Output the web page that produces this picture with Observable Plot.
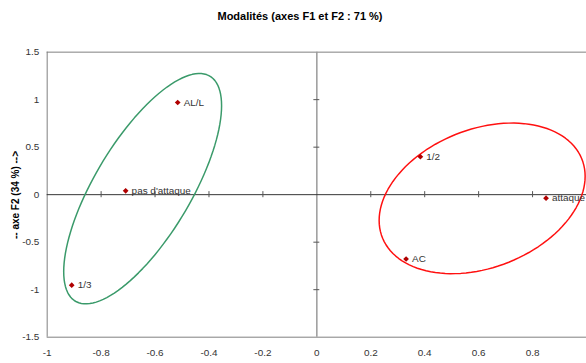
<!DOCTYPE html>
<html>
<head>
<meta charset="utf-8">
<script src="https://cdn.jsdelivr.net/npm/d3@7"></script>
<script src="https://cdn.jsdelivr.net/npm/@observablehq/plot@0.6"></script>
<style>
  html, body { margin: 0; padding: 0; background: #fff; overflow: hidden; width: 586px; height: 363px; }
  #wrap { position: relative; width: 586px; height: 363px; }
  #title { position: absolute; left: 0; width: 600px; top: 10px; text-align: center; font: bold 11px "Liberation Sans", Arial, sans-serif; color: #000; }
  #ylab { position: absolute; left: 15px; top: 195px; transform: translate(-50%, -50%) rotate(-90deg); white-space: nowrap; font: bold 10px "Liberation Sans", Arial, sans-serif; color: #000; }
  svg { position: absolute; left: 0; top: 0; }
</style>
</head>
<body>
<div id="wrap">
  <div id="chart"></div>
  <div id="title">Modalités (axes F1 et F2 : 71 %)</div>
  <div id="ylab">-- axe F2 (34 %) --&gt;</div>
</div>
<script>
// Modalities (points)
const labels = ["AL/L", "pas d'attaque", "1/3", "1/2", "attaque", "AC"];
const f1 = [-0.516, -0.709, -0.909, 0.384, 0.850, 0.331];
const f2 = [0.970, 0.040, -0.953, 0.399, -0.037, -0.677];

// Ellipses (center and covariance-like shape parameters, data units)
const ellipseNames = ["green", "red"];
const ellipseColors = ["#3a9a6a", "#ff1010"];
const ellipseCx = [-0.646, 0.613];
const ellipseCy = [0.063, -0.039];
const ellipseSxx = [0.0857, 0.1459];
const ellipseSyy = [1.470, 0.628];
const ellipseSxy = [0.2556, 0.0886];

// Tick values
const xTicks = [-1, -0.8, -0.6, -0.4, -0.2, 0, 0.2, 0.4, 0.6, 0.8];
const yTicks = [-1.5, -1, -0.5, 0, 0.5, 1, 1.5];

const points = labels.map((l, i) => ({label: l, x: f1[i], y: f2[i]}));

const ellipsePts = [];
ellipseNames.forEach((n, k) => {
  const L11 = Math.sqrt(ellipseSxx[k]);
  const L21 = ellipseSxy[k] / L11;
  const L22 = Math.sqrt(ellipseSyy[k] - L21 * L21);
  for (let i = 0; i < 120; i++) {
    const t = (i / 120) * 2 * Math.PI;
    ellipsePts.push({
      name: n,
      x: ellipseCx[k] + L11 * Math.cos(t),
      y: ellipseCy[k] + L21 * Math.cos(t) + L22 * Math.sin(t)
    });
  }
});

const innerX = xTicks.filter(d => d !== 0 && d !== -1);
const innerY = yTicks.filter(d => d !== 0 && Math.abs(d) !== 1.5);

const chart = Plot.plot({
  width: 590,
  height: 363,
  marginLeft: 47,
  marginRight: 0,
  marginTop: 52,
  marginBottom: 24,
  style: {fontFamily: "'Liberation Sans', Arial, sans-serif", fontSize: "10px", background: "transparent", overflow: "visible"},
  x: {domain: [-1, 1], ticks: xTicks, tickFormat: d => String(d), label: null},
  y: {domain: [-1.5, 1.5], ticks: yTicks, tickFormat: d => String(d), label: null},
  marks: [
    Plot.axisX({ticks: xTicks, tickSize: 0, tickPadding: 12, tickFormat: d => String(d), fill: "#333", label: null}),
    Plot.axisY({ticks: yTicks, tickSize: 0, tickPadding: 8, tickFormat: d => String(d), fill: "#333", label: null}),
    // frame (left, top, bottom; right edge lies outside the window)
    Plot.ruleX([-1], {stroke: "#808080", strokeWidth: 1}),
    Plot.ruleY([-1.5, 1.5], {stroke: "#808080", strokeWidth: 1}),
    // central axes
    Plot.ruleX([0], {stroke: "#999", strokeWidth: 1.5}),
    Plot.ruleY([0], {stroke: "#333", strokeWidth: 1}),
    Plot.ruleX(innerX, {x: d => d, y1: -0.032, y2: 0.032, stroke: "#555"}),
    Plot.ruleY(innerY, {y: d => d, x1: -0.011, x2: 0.011, stroke: "#555"}),
    // ellipses
    Plot.line(ellipsePts, {x: "x", y: "y", z: "name", stroke: d => ellipseColors[ellipseNames.indexOf(d.name)], strokeWidth: 1.5, curve: "linear-closed"}),
    // points
    Plot.dot(points, {x: "x", y: "y", symbol: "diamond2", r: 2.6, fill: "#b00000", stroke: "none"}),
    Plot.text(points, {x: "x", y: "y", text: "label", dx: 6, textAnchor: "start", fill: "#333", fontSize: 10})
  ]
});
document.getElementById("chart").appendChild(chart);
</script>
</body>
</html>
